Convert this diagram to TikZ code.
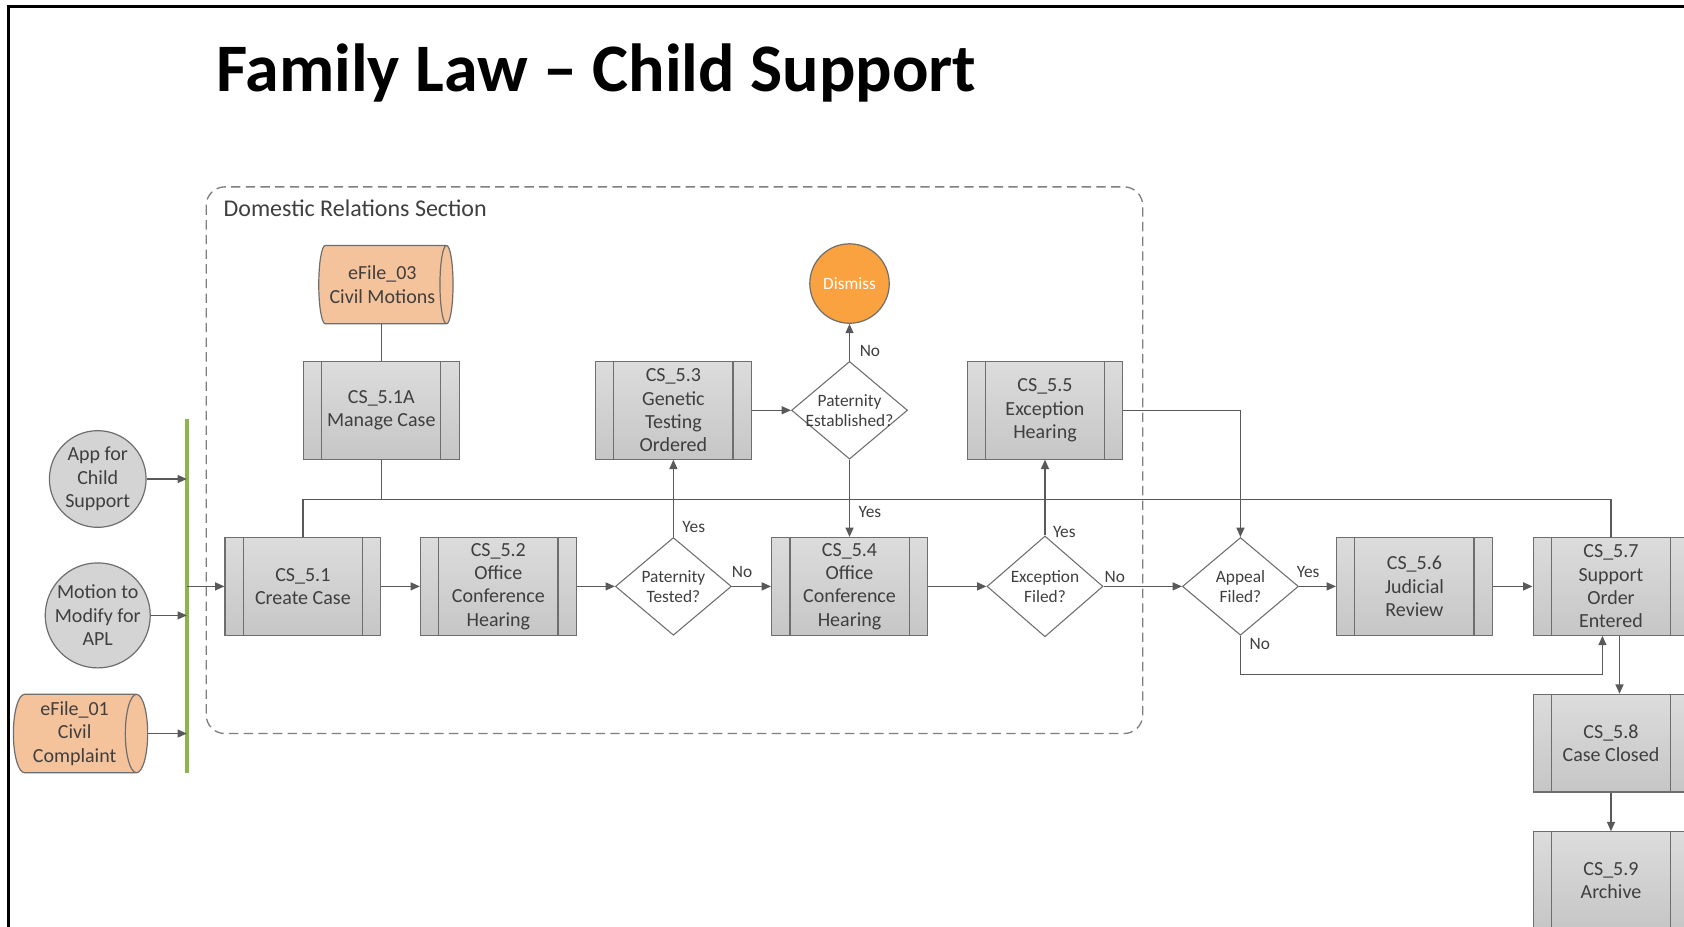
\documentclass[tikz,border=0pt]{standalone}
\usepackage{fontspec}
\setmainfont{Carlito}
\usetikzlibrary{shapes.geometric,arrows.meta}

\definecolor{linegray}{HTML}{595959}
\definecolor{boxline}{HTML}{6E6E6E}
\definecolor{boxtop}{HTML}{DCDCDC}
\definecolor{boxbot}{HTML}{C6C6C6}
\definecolor{textgray}{HTML}{3F3F3F}
\definecolor{peach}{HTML}{F5C39B}
\definecolor{circfill}{HTML}{D4D4D4}
\definecolor{dismissfill}{HTML}{F9A23F}
\definecolor{barGreen}{HTML}{8DB54C}
\definecolor{dashgray}{HTML}{7F7F7F}

\newcommand{\boxfont}{\fontsize{15}{17.5}\selectfont}
\newcommand{\decfont}{\fontsize{13}{15.2}\selectfont}
\newcommand{\lblfont}{\fontsize{13}{15}\selectfont}
% a line of text that may run past the border of its decision shape
\newcommand{\wideline}[1]{\makebox[0pt]{#1}}

\begin{document}
\begin{tikzpicture}[x=0.8055pt,y=-0.8055pt,
  proc/.style={draw=boxline, line width=0.9pt, top color=boxtop, bottom color=boxbot,
    minimum width=116.8pt, minimum height=73.3pt, inner sep=0pt, align=center,
    font=\boxfont, text=textgray,
    path picture={
      \draw[boxline, line width=0.9pt]
        ([xshift=13.7pt]path picture bounding box.north west) --
        ([xshift=13.7pt]path picture bounding box.south west);
      \draw[boxline, line width=0.9pt]
        ([xshift=-13.7pt]path picture bounding box.north east) --
        ([xshift=-13.7pt]path picture bounding box.south east);}},
  dec/.style={diamond, draw=boxline, line width=0.8pt, fill=white,
    minimum width=87pt, minimum height=73.3pt, inner sep=0pt, align=center,
    font=\decfont, text=textgray},
  startc/.style={circle, draw=boxline, line width=0.9pt, fill=circfill,
    minimum size=72.5pt, inner sep=0pt, align=center, font=\boxfont, text=textgray},
  endc/.style={circle, draw=boxline, line width=0.9pt, fill=dismissfill,
    minimum size=59.6pt, inner sep=0pt, align=center, font=\decfont, text=white},
  store/.style={cylinder, shape aspect=0.35, draw=boxline, line width=0.9pt, fill=peach,
    minimum height=100.7pt, minimum width=58.8pt, inner sep=0pt, align=center,
    font=\boxfont, text=textgray},
  conn/.style={draw=linegray, line width=1pt},
  arr/.style={conn, -{Triangle[length=7pt,width=6pt]}},
  lbl/.style={font=\lblfont, text=textgray, inner sep=1pt}
]
% page area
\useasboundingbox (0,0) rectangle (1568,863);
\clip (0,0) rectangle (1568,863);
\fill[white] (0,0) rectangle (1568,863);
\draw[black, line width=2.2pt] (8,870) -- (8,6) -- (1580,6);

% heading
\node[anchor=base west, inner sep=0pt, font=\fontsize{51}{57}\selectfont\bfseries]
  (title) at (201,85) {Family Law – Child Support};

% section frame
\draw[dashgray, line width=1pt, dash pattern=on 7pt off 4pt, rounded corners=14pt]
  (192,174) rectangle (1064,683);
\node[anchor=west, inner sep=0pt, font=\fontsize{18}{21}\selectfont, text=textgray]
  (section) at (208,194) {Domestic Relations Section};

% inputs
\node[startc] (app) at (91,446) {App for\\Child\\Support};
\node[startc] (motion) at (91,573) {Motion to\\Modify for\\APL};
\node[store] (ef1) at (69.5,683) {eFile\_01\\Civil\\Complaint};
\coordinate (bartop) at (174,390);
\coordinate (barbot) at (174,720);
\draw[barGreen, line width=2.6pt] (bartop) -- (barbot);

% process steps
\node[store] (ef3) at (356,265) {eFile\_03\\Civil Motions};
\node[proc] (m1a) at (355,382) {CS\_5.1A\\Manage Case};
\node[proc] (c1) at (282,546) {CS\_5.1\\Create Case};
\node[proc] (c2) at (464,546) {CS\_5.2\\Office\\Conference\\Hearing};
\node[dec] (pt) at (627,546) {Paternity\\Tested?};
\node[proc] (c3) at (627,382) {CS\_5.3\\Genetic\\Testing\\Ordered};
\node[dec] (pe) at (791,382) {\wideline{Paternity}\\\wideline{Established?}};
\node[endc] (dis) at (791,264) {Dismiss};
\node[proc] (c4) at (791,546) {CS\_5.4\\Office\\Conference\\Hearing};
\node[dec] (ef) at (973,546) {Exception\\Filed?};
\node[proc] (c5) at (973,382) {CS\_5.5\\Exception\\Hearing};
\node[dec] (af) at (1155,546) {Appeal\\Filed?};
\node[proc] (c6) at (1317,546) {CS\_5.6\\Judicial\\Review};
\node[proc] (c7) at (1500,546) {CS\_5.7\\Support\\Order\\Entered};
\node[proc] (c8) at (1500,692) {CS\_5.8\\Case Closed};
\node[proc] (c9) at (1500,820) {CS\_5.9\\Archive};

% inputs onto the bar
\draw[arr] (app.east) -- (app.east -| bartop);
\draw[arr] (motion.east) -- (motion.east -| bartop);
\draw[arr] (ef1.east) -- (ef1.east -| bartop);
\draw[arr] (c1.west -| bartop) -- (c1.west);

% case management bus
\coordinate (bus) at (0,465);
\draw[conn] (m1a.north) -- (m1a.north |- ef3.south);
\draw[conn] (m1a.south) -- (m1a.south |- bus);
\draw[conn] (c1.north) -- (c1.north |- bus) -- (c7.north |- bus) -- (c7.north);

% main flow
\draw[arr] (c1) -- (c2);
\draw[arr] (c2) -- (pt);
\draw[arr] (pt.east) -- (c4.west);
\draw[arr] (pt.north) -- (c3.south);
\draw[arr] (c3.east) -- (pe.west);
\draw[arr] (pe.north) -- (dis.south);
\draw[arr] (pe.south) -- (c4.north);
\draw[arr] (c4.east) -- (ef.west);
\draw[arr] (ef.north) -- (c5.south);
\draw[arr] (ef.east) -- (af.west);
\draw[arr] (c5.east) -| (af.north);
\draw[arr] (af.east) -- (c6.west);
\coordinate (lowbus) at (0,628);
\draw[arr] (af.south) -- (af.south |- lowbus) -| ([xshift=-6.4pt]c7.south);
\draw[arr] (c6.east) -- (c7.west);
\draw[arr] ([xshift=6.4pt]c7.south) -- ([xshift=6.4pt]c8.north);
\draw[arr] (c8.south) -- (c9.north);

% branch labels
\node[lbl] (ptno) at (691,533) {No};
\node[lbl] (ptyes) at (646,491) {Yes};
\node[lbl] (peno) at (810,327) {No};
\node[lbl] (peyes) at (810,477) {Yes};
\node[lbl] (efyes) at (991,495) {Yes};
\node[lbl] (efno) at (1038,537) {No};
\node[lbl] (afyes) at (1218,533) {Yes};
\node[lbl] (afno) at (1173,600) {No};
\end{tikzpicture}
\end{document}
